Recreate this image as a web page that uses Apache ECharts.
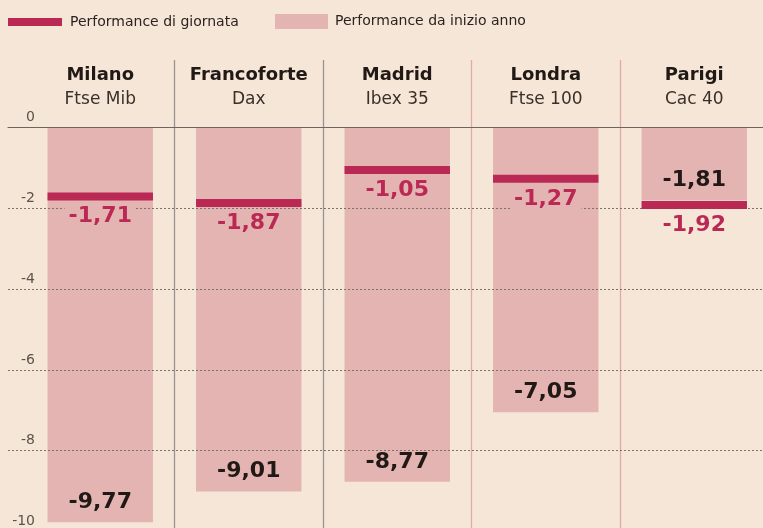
<!DOCTYPE html>
<html>
<head>
<meta charset="utf-8">
<script src="https://cdn.jsdelivr.net/npm/echarts@6/dist/echarts.min.js"></script>
<style>
html,body{margin:0;padding:0;background:#f6e6d8;}
#chart{width:763px;height:528px;}
</style>
</head>
<body>
<div id="chart"></div>
<script>
const cities = ['Milano', 'Francoforte', 'Madrid', 'Londra', 'Parigi'];
const indices = ['Ftse Mib', 'Dax', 'Ibex 35', 'Ftse 100', 'Cac 40'];
const ytd = [-9.77, -9.01, -8.77, -7.05, -1.81];
const daily = [-1.71, -1.87, -1.05, -1.27, -1.92];
const yMin = -10, yMax = 0, yStep = 2;
const seriesNames = ['Performance di giornata', 'Performance da inizio anno'];

const BG = '#f6e6d8', PINK = '#e4b4b2', CRIMSON = '#ba2854', INK = '#211915';
const FONT = '"DejaVu Sans", sans-serif';
const fmt = v => v.toFixed(2).replace('.', ',');

const chart = echarts.init(document.getElementById('chart'), null, {renderer: 'canvas'});

const dailyData = cities.map((c, i) => [i, daily[i], ytd[i]]);

chart.setOption({
  backgroundColor: BG,
  animation: false,
  legend: [
    {
      data: [{name: seriesNames[0], icon: 'rect', itemStyle: {color: CRIMSON}}],
      left: 8, top: 15, padding: 0, itemWidth: 54, itemHeight: 8, selectedMode: false,
      textStyle: {fontFamily: FONT, fontSize: 14, color: '#2b2320', padding: [0, 0, 0, 3]}
    },
    {
      data: [{name: seriesNames[1], icon: 'rect', itemStyle: {color: PINK}}],
      left: 275, top: 14, padding: 0, itemWidth: 53, itemHeight: 15, selectedMode: false,
      textStyle: {fontFamily: FONT, fontSize: 14, color: '#2b2320', padding: [0, 0, 0, 2]}
    }
  ],
  grid: [
    {left: 26, width: 742.5, top: 127.5, height: 404, outerBoundsMode: 'none', containLabel: false},
    {left: 26, width: 742.5, top: 60, height: 468, outerBoundsMode: 'none', containLabel: false},
    {left: 8, right: 0, top: 127.5, height: 404, outerBoundsMode: 'none', containLabel: false}
  ],
  xAxis: [
    {
      gridIndex: 0, type: 'category', data: cities, position: 'top',
      axisLine: {show: false}, axisTick: {show: false}, splitLine: {show: false},
      axisLabel: {
        interval: 0, margin: 16,
        formatter: (v, i) => '{b|' + v + '}\n{s|' + indices[i] + '}',
        rich: {
          b: {fontFamily: FONT, fontWeight: 'bold', fontSize: 18, color: INK, lineHeight: 25, align: 'center'},
          s: {fontFamily: FONT, fontSize: 17, color: '#3a302b', lineHeight: 24, align: 'center'}
        }
      }
    },
    {
      gridIndex: 1, type: 'category', data: cities, boundaryGap: true,
      axisLine: {show: false}, axisTick: {show: false}, axisLabel: {show: false},
      splitLine: {show: true, lineStyle: {width: 1.3, color: ['rgba(0,0,0,0)', '#9b948e', '#9b948e', '#e2a9a7', '#e2a9a7', 'rgba(0,0,0,0)']}}
    },
    {
      gridIndex: 2, type: 'value', position: 'top', min: 0, max: 1, z: 3,
      axisLine: {show: true, onZero: false, lineStyle: {color: '#6e6560', width: 1.2}},
      axisTick: {show: false}, axisLabel: {show: false}, splitLine: {show: false}
    }
  ],
  yAxis: [
    {gridIndex: 0, type: 'value', min: yMin, max: yMax, interval: yStep, show: false},
    {gridIndex: 1, type: 'value', show: false},
    {
      gridIndex: 2, type: 'value', min: yMin, max: yMax, interval: yStep, z: 3,
      axisLine: {show: false}, axisTick: {show: false},
      axisLabel: {
        inside: true, margin: 27, align: 'right', verticalAlign: 'bottom',
        padding: [0, 0, 3, 0],
        fontFamily: FONT, fontSize: 14, color: '#5b524c',
        formatter: v => String(v)
      },
      splitLine: {show: true, showMaxLine: false, lineStyle: {type: [2, 2], color: '#7d726b', width: 1}}
    }
  ],
  series: [
    {
      name: seriesNames[1], type: 'bar', xAxisIndex: 0, yAxisIndex: 0,
      data: ytd, barWidth: '71%', z: 2,
      itemStyle: {color: PINK},
      label: {
        show: true, position: 'insideBottom', distance: 9,
        formatter: p => fmt(p.value),
        fontFamily: FONT, fontWeight: 'bold', fontSize: 22, color: INK
      }
    },
    {
      name: seriesNames[0], type: 'custom', xAxisIndex: 0, yAxisIndex: 0, z: 4,
      itemStyle: {color: CRIMSON},
      encode: {x: 0, y: 1},
      data: dailyData,
      renderItem: (params, api) => {
        const idx = api.value(0), v = api.value(1), bar = api.value(2);
        const p = api.coord([idx, v]);
        const w = api.size([1, 0])[0] * 0.71;
        const inside = bar < v;
        return {
          type: 'group',
          children: [
            {type: 'rect', shape: {x: p[0] - w / 2, y: p[1] - 4, width: w, height: 8}, style: {fill: CRIMSON}},
            {
              type: 'text',
              style: {
                text: fmt(v), x: p[0], y: p[1] + 20, align: 'center', verticalAlign: 'middle',
                font: 'bold 22px ' + FONT, fill: CRIMSON,
                backgroundColor: inside ? PINK : null, padding: [1, 4, 1, 4]
              }
            }
          ]
        };
      }
    }
  ]
});
</script>
</body>
</html>
